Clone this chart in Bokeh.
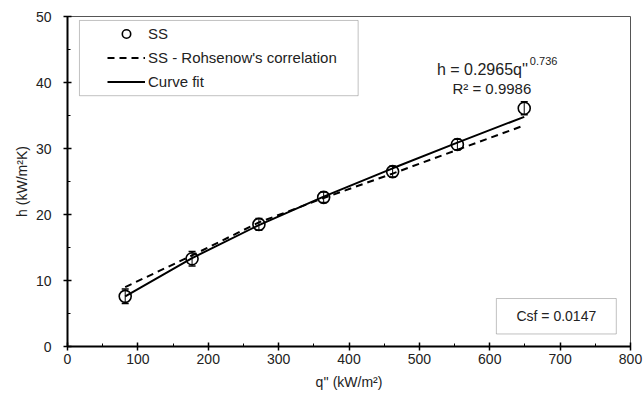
from bokeh.plotting import figure
from bokeh.models import (ColumnDataSource, Whisker, TeeHead, Legend, LegendItem,
                          Label, BoxAnnotation, SingleIntervalTicker)
from bokeh.embed import file_html
from bokeh.resources import INLINE

# ---- data ----
q_flux = [82, 177, 272, 364, 462, 554, 649]
h_ss = [7.6, 13.3, 18.5, 22.6, 26.5, 30.6, 36.1]
h_err = [1.1, 1.1, 0.9, 0.8, 0.8, 0.8, 1.0]
h_rohsenow = [9.0, 13.8, 18.8, 22.5, 26.2, 29.8, 33.5]
h_fit = [7.6, 13.4, 18.4, 22.7, 27.0, 30.9, 34.8]
fit_eq = "h = 0.2965q''"
fit_exp = "0.736"
fit_r2 = "R² = 0.9986"
csf_text = "Csf = 0.0147"

FONT = "Liberation Sans"
TXT = "#222222"

p = figure(width=643, height=394, x_range=(0, 800), y_range=(0, 50),
           output_backend="svg", toolbar_location=None,
           min_border_left=67, min_border_right=13, min_border_top=16, min_border_bottom=48)

p.xgrid.visible = False
p.ygrid.visible = False
p.outline_line_color = "#555555"
p.outline_line_width = 1
p.background_fill_color = "white"

p.xaxis.ticker = SingleIntervalTicker(interval=100, num_minor_ticks=2)
p.yaxis.ticker = SingleIntervalTicker(interval=10, num_minor_ticks=2)
for ax in (p.xaxis, p.yaxis):
    ax.axis_line_width = 2
    ax.axis_line_color = "black"
    ax.major_tick_line_color = "black"
    ax.major_tick_line_width = 1.5
    ax.major_tick_in = 4
    ax.major_tick_out = 4
    ax.minor_tick_line_color = "black"
    ax.minor_tick_line_width = 1
    ax.minor_tick_in = 3
    ax.minor_tick_out = 0
    ax.major_label_text_font = FONT
    ax.major_label_text_font_size = "14px"
    ax.major_label_text_color = TXT
    ax.axis_label_text_font = FONT
    ax.axis_label_text_font_size = "14px"
    ax.axis_label_text_font_style = "normal"
    ax.axis_label_text_color = TXT

p.xaxis.axis_label = "q'' (kW/m²)"
p.yaxis.axis_label = "h (kW/m²K)"
p.xaxis.major_label_standoff = 3
p.xaxis.axis_label_standoff = 7
p.yaxis.major_label_standoff = 12
p.yaxis.axis_label_standoff = 3

src = ColumnDataSource(dict(
    q=q_flux, h=h_ss,
    upper=[a + b for a, b in zip(h_ss, h_err)],
    lower=[a - b for a, b in zip(h_ss, h_err)],
    roh=h_rohsenow, fit=h_fit))

wh = Whisker(source=src, base="q", upper="upper", lower="lower",
             line_color="black", line_width=1,
             upper_head=TeeHead(size=7, line_color="black", line_width=1.5),
             lower_head=TeeHead(size=7, line_color="black", line_width=1.5))
p.add_layout(wh)

r_pts = p.scatter("q", "h", source=src, marker="circle", size=12,
                  line_color="black", line_width=1.6, fill_alpha=0)
r_roh = p.line("q", "roh", source=src, line_color="black", line_width=2,
               line_dash="7 5")
r_fit = p.line("q", "fit", source=src, line_color="black", line_width=2)

# legend frame
p.add_layout(BoxAnnotation(left=17, right=413, top=49.4, bottom=38.0,
                           fill_alpha=0, line_color="#333333", line_width=1))

legend = Legend(items=[LegendItem(label="SS", renderers=[r_pts]),
                       LegendItem(label="SS - Rohsenow's correlation", renderers=[r_roh]),
                       LegendItem(label="Curve fit", renderers=[r_fit])],
                location=(37, 251), orientation="vertical",
                glyph_width=38, glyph_height=21, label_height=21,
                label_standoff=3, spacing=3, padding=3, margin=0,
                border_line_alpha=0, background_fill_alpha=0,
                label_text_font=FONT, label_text_font_size="15px",
                label_text_color=TXT)
p.add_layout(legend)

# fit equation
p.add_layout(Label(x=525, y=41.9, text=fit_eq, text_font=FONT, text_font_size="16px",
                   text_color=TXT, text_baseline="alphabetic", text_align="left"))
p.add_layout(Label(x=657, y=43.3, text=fit_exp, text_font=FONT, text_font_size="11px",
                   text_color=TXT, text_baseline="alphabetic", text_align="left"))
p.add_layout(Label(x=547, y=39.1, text=fit_r2, text_font=FONT, text_font_size="15px",
                   text_color=TXT, text_baseline="alphabetic", text_align="left"))

# Csf box
p.add_layout(BoxAnnotation(left=609.4, right=779.8, top=7.27, bottom=1.9,
                           fill_alpha=0, line_color="#333333", line_width=1))
p.add_layout(Label(x=694.6, y=4.6, text=csf_text, text_font=FONT, text_font_size="14px",
                   text_color=TXT, text_baseline="middle", text_align="center"))

open("out.html", "w").write(file_html(p, INLINE))
